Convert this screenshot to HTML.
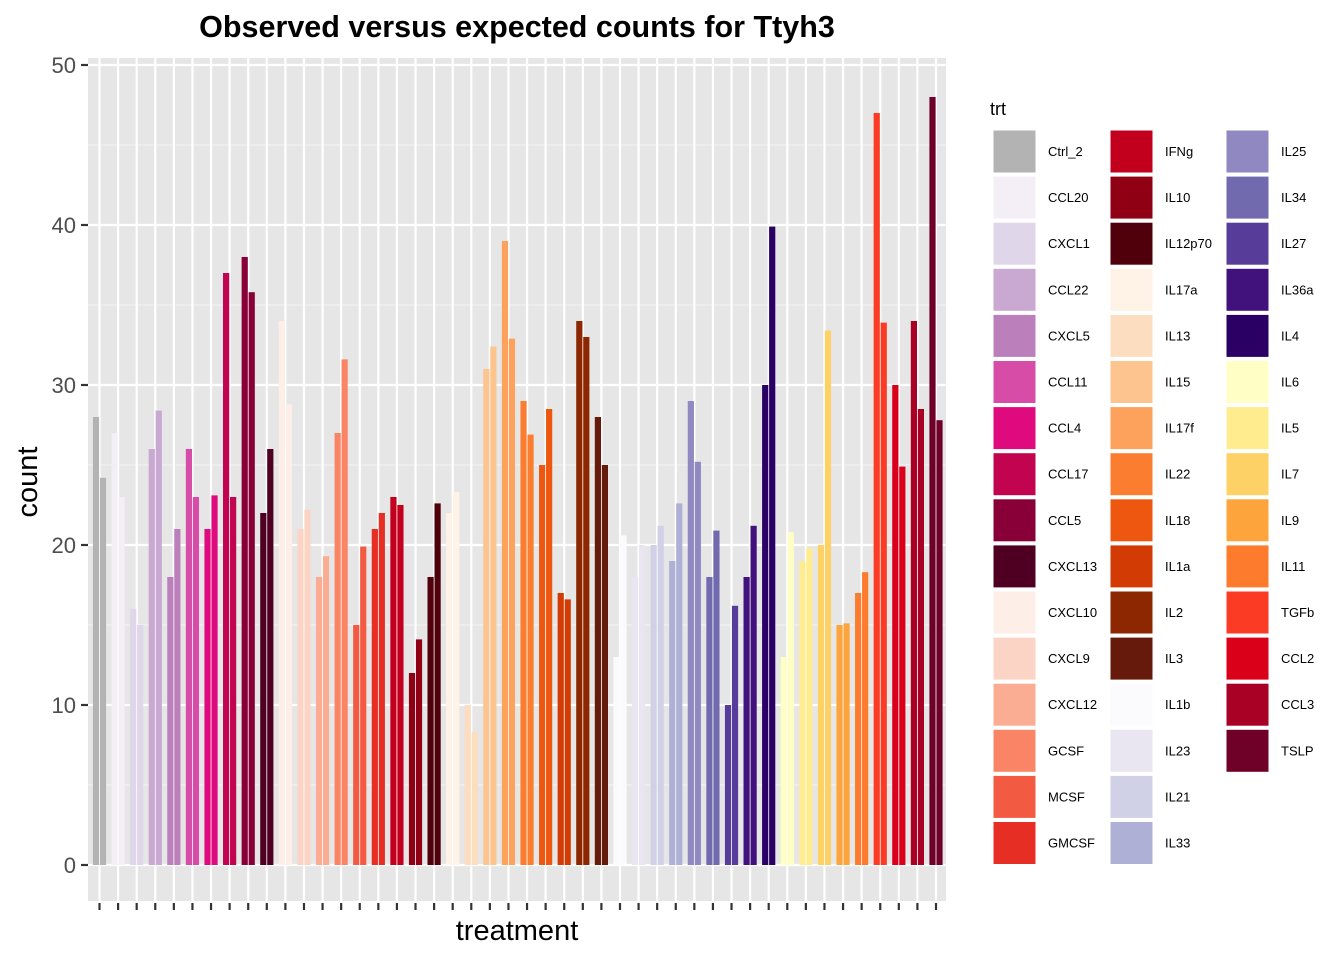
<!DOCTYPE html>
<html><head><meta charset="utf-8"><style>
body{margin:0;background:#fff;font-family:"Liberation Sans",Arial,sans-serif}
svg text{font-family:"Liberation Sans",Arial,sans-serif}
</style></head><body>
<svg id="c" width="1344" height="960" xmlns="http://www.w3.org/2000/svg">
<text x="517" y="37" text-anchor="middle" font-size="30.5" font-weight="bold" fill="#000">Observed versus expected counts for Ttyh3</text>
<rect x="88" y="58" width="858" height="843" fill="#e6e6e6"/>
<g id="grid"></g><g id="bars"></g><g id="axes"></g><g id="legend"></g>
<text x="517" y="940" text-anchor="middle" font-size="29" fill="#000">treatment</text>
<text transform="translate(37,482) rotate(-90)" text-anchor="middle" font-size="29" fill="#000">count</text>
</svg>
<script>
const categories=["Ctrl_2","CCL20","CXCL1","CCL22","CXCL5","CCL11","CCL4","CCL17","CCL5","CXCL13","CXCL10","CXCL9","CXCL12","GCSF","MCSF","GMCSF","IFNg","IL10","IL12p70","IL17a","IL13","IL15","IL17f","IL22","IL18","IL1a","IL2","IL3","IL1b","IL23","IL21","IL33","IL25","IL34","IL27","IL36a","IL4","IL6","IL5","IL7","IL9","IL11","TGFb","CCL2","CCL3","TSLP"];
const observed=[28,27,16,26,18,26,21,37,38,22,34,21,18,27,15,21,23,12,18,22,10,31,39,29,25,17,34,28,13,18,20,19,29,18,10,18,30,13,19,20,15,17,47,30,34,48];
const expected=[24.2,23,15,28.4,21,23,23.1,23,35.8,26,28.8,22.2,19.3,31.6,19.9,22,22.5,14.1,22.6,23.3,8.3,32.4,32.9,26.9,28.5,16.6,33,25,20.6,20,21.2,22.6,25.2,20.9,16.2,21.2,39.9,20.8,19.8,33.4,15.1,18.3,33.9,24.9,28.5,27.8];
const colors=["#b3b3b3","#f4eff6","#dfd6ea","#c9a8d2","#bb80bc","#d64ca6","#df0a7d","#c2034f","#880037","#4f0022","#fdeee8","#fcd4c5","#fbad93","#fa8466","#f35a42","#e72e24","#c2001e","#8f0015","#4f000a","#fff2e6","#fdddc0","#fdc48f","#fda25d","#fb7e30","#ee5710","#d23b03","#8d2701","#651a0c","#fbfafd","#e9e6f1","#d0d1e6","#afb0d6","#9089c1","#716aae","#573d99","#42127c","#2b0064","#ffffc5","#feec8f","#fed166","#fea43c","#fc7b2c","#fb3b23","#db0019","#a90026","#6f0028"];
const yTicks=[0,10,20,30,40,50];
const NS="http://www.w3.org/2000/svg";
const y=v=>865-v*16;
const x=i=>99.5+i*(936-99.5)/45;
function mk(t,a,p){const e=document.createElementNS(NS,t);for(const k in a)e.setAttribute(k,a[k]);p.appendChild(e);return e;}
const grid=document.getElementById('grid'),bars=document.getElementById('bars'),axes=document.getElementById('axes'),leg=document.getElementById('legend');
for(let v=5;v<=50;v+=10){const l=mk('line',{x1:88,x2:946,y1:y(v),y2:y(v),stroke:'#f4f4f4','stroke-width':1},grid);

}
yTicks.forEach(v=>{const l=mk('line',{x1:88,x2:946,y1:y(v),y2:y(v),stroke:'#fff','stroke-width':2.2},grid);


const t=mk('line',{x1:81,x2:88,y1:y(v),y2:y(v),stroke:'#333','stroke-width':2.2},axes);


const tx=mk('text',{x:76,y:y(v)+8,'text-anchor':'end','font-size':22,fill:'#4d4d4d'},axes);tx.textContent=v;

});
categories.forEach((c,i)=>{const g=mk('line',{x1:x(i),x2:x(i),y1:58,y2:901,stroke:'#fff','stroke-width':2.2},grid);


const t=mk('line',{x1:x(i),x2:x(i),y1:903,y2:910,stroke:'#333','stroke-width':2.2},axes);


const b1=mk('rect',{x:x(i)-6.6,y:y(observed[i]),width:6.2,height:865-y(observed[i]),fill:colors[i]},bars);


const b2=mk('rect',{x:x(i)+0.4,y:y(expected[i]),width:6.2,height:865-y(expected[i]),fill:colors[i]},bars);


const col=Math.floor(i/16),row=i%16;const lx=[993,1110,1226][col],ly=130+row*46.1;
const k=mk('rect',{x:lx,y:ly,width:43,height:43,fill:colors[i],stroke:'#fff','stroke-width':1},leg);


const lt=mk('text',{x:lx+55,y:ly+26,'font-size':13,fill:'#000'},leg);lt.textContent=c;

});
const tt=mk('text',{x:990,y:115,'font-size':18,fill:'#000'},leg);tt.textContent='trt';


</script>
</body></html>
